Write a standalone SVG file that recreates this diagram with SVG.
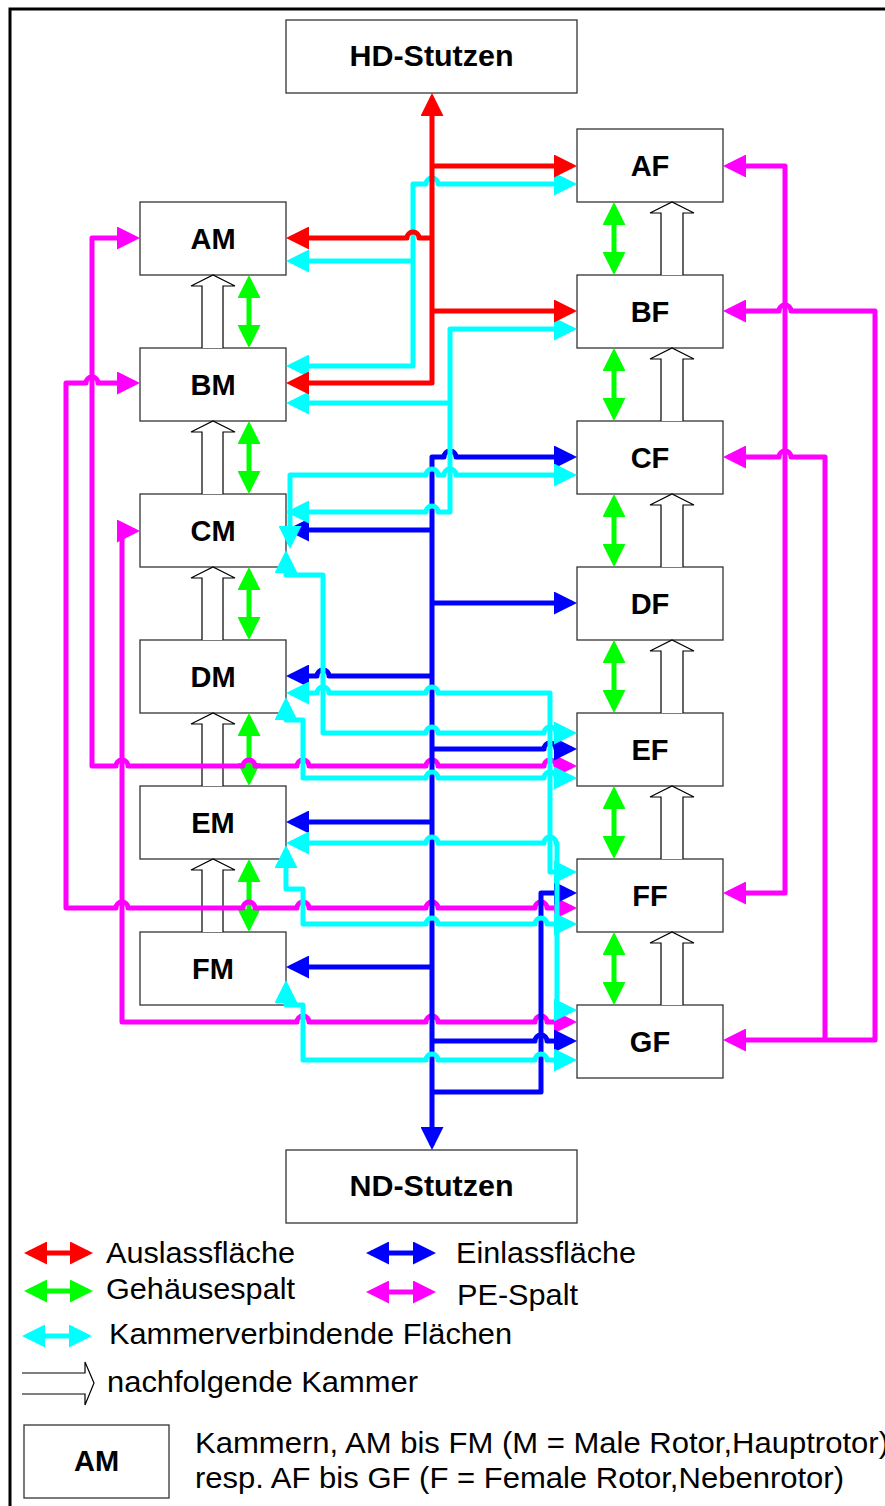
<svg xmlns="http://www.w3.org/2000/svg" width="885" height="1506" viewBox="0 0 885 1506">
<style>
.box{fill:#fff;stroke:#333;stroke-width:1.3}
.lbl{font-family:"Liberation Sans",Arial,sans-serif;font-weight:bold;font-size:29px;text-anchor:middle;fill:#000}
.leg{font-family:"Liberation Sans",Arial,sans-serif;font-size:30px;fill:#000}
.c{fill:none;stroke-width:5;stroke-linejoin:round}
.r{stroke:#ff0000}.g{stroke:#00ff00}.b{stroke:#0000ff}.cy{stroke:#00ffff}.m{stroke:#ff00ff}
.hol{fill:#fff;stroke:#000;stroke-width:1.2}
</style>
<defs>
<marker id="aR" viewBox="0 0 23 23" markerWidth="23" markerHeight="23" refX="18" refY="11.5" orient="auto-start-reverse" markerUnits="userSpaceOnUse"><path d="M0,0 L23,11.5 L0,23 z" fill="#ff0000"/></marker>
<marker id="aG" viewBox="0 0 23 23" markerWidth="23" markerHeight="23" refX="18" refY="11.5" orient="auto-start-reverse" markerUnits="userSpaceOnUse"><path d="M0,0 L23,11.5 L0,23 z" fill="#00ff00"/></marker>
<marker id="aB" viewBox="0 0 23 23" markerWidth="23" markerHeight="23" refX="18" refY="11.5" orient="auto-start-reverse" markerUnits="userSpaceOnUse"><path d="M0,0 L23,11.5 L0,23 z" fill="#0000ff"/></marker>
<marker id="aC" viewBox="0 0 23 23" markerWidth="23" markerHeight="23" refX="18" refY="11.5" orient="auto-start-reverse" markerUnits="userSpaceOnUse"><path d="M0,0 L23,11.5 L0,23 z" fill="#00ffff"/></marker>
<marker id="aM" viewBox="0 0 23 23" markerWidth="23" markerHeight="23" refX="18" refY="11.5" orient="auto-start-reverse" markerUnits="userSpaceOnUse"><path d="M0,0 L23,11.5 L0,23 z" fill="#ff00ff"/></marker>
</defs>
<rect width="885" height="1506" fill="#fff"/>
<path d="M10,1506 L10,9 L885,9" fill="none" stroke="#000" stroke-width="3"/>

<g id="HD"><rect class="box" x="286" y="20" width="291" height="73"/><text class="lbl" x="431.5" y="66" textLength="164" lengthAdjust="spacingAndGlyphs">HD-Stutzen</text></g>
<g id="ND"><rect class="box" x="286" y="1150" width="291" height="73"/><text class="lbl" x="431.5" y="1196" textLength="164" lengthAdjust="spacingAndGlyphs">ND-Stutzen</text></g>
<g id="AM"><rect class="box" x="140" y="202" width="146" height="73"/><text class="lbl" x="213" y="249">AM</text></g>
<g id="BM"><rect class="box" x="140" y="348" width="146" height="73"/><text class="lbl" x="213" y="395">BM</text></g>
<g id="CM"><rect class="box" x="140" y="494" width="146" height="73"/><text class="lbl" x="213" y="541">CM</text></g>
<g id="DM"><rect class="box" x="140" y="640" width="146" height="73"/><text class="lbl" x="213" y="687">DM</text></g>
<g id="EM"><rect class="box" x="140" y="786" width="146" height="73"/><text class="lbl" x="213" y="833">EM</text></g>
<g id="FM"><rect class="box" x="140" y="932" width="146" height="73"/><text class="lbl" x="213" y="979">FM</text></g>
<g id="AF"><rect class="box" x="577" y="129" width="146" height="73"/><text class="lbl" x="650" y="176">AF</text></g>
<g id="BF"><rect class="box" x="577" y="275" width="146" height="73"/><text class="lbl" x="650" y="322">BF</text></g>
<g id="CF"><rect class="box" x="577" y="421" width="146" height="73"/><text class="lbl" x="650" y="468">CF</text></g>
<g id="DF"><rect class="box" x="577" y="567" width="146" height="73"/><text class="lbl" x="650" y="614">DF</text></g>
<g id="EF"><rect class="box" x="577" y="713" width="146" height="73"/><text class="lbl" x="650" y="760">EF</text></g>
<g id="FF"><rect class="box" x="577" y="859" width="146" height="73"/><text class="lbl" x="650" y="906">FF</text></g>
<g id="GF"><rect class="box" x="577" y="1005" width="146" height="73"/><text class="lbl" x="650" y="1052">GF</text></g>

<g id="connectors">
<!-- hollow successor arrows -->
<path class="hol" d="M202,348 L202,286 L191,286 L213,275 L235,286 L223,286 L223,348"/>
<path class="hol" d="M202,494 L202,432 L191,432 L213,421 L235,432 L223,432 L223,494"/>
<path class="hol" d="M202,640 L202,578 L191,578 L213,567 L235,578 L223,578 L223,640"/>
<path class="hol" d="M202,786 L202,724 L191,724 L213,713 L235,724 L223,724 L223,786"/>
<path class="hol" d="M202,932 L202,870 L191,870 L213,859 L235,870 L223,870 L223,932"/>
<path class="hol" d="M661,275 L661,213 L650,213 L672,202 L694,213 L683,213 L683,275"/>
<path class="hol" d="M661,421 L661,359 L650,359 L672,348 L694,359 L683,359 L683,421"/>
<path class="hol" d="M661,567 L661,505 L650,505 L672,494 L694,505 L683,505 L683,567"/>
<path class="hol" d="M661,713 L661,651 L650,651 L672,640 L694,651 L683,651 L683,713"/>
<path class="hol" d="M661,859 L661,797 L650,797 L672,786 L694,797 L683,797 L683,859"/>
<path class="hol" d="M661,1005 L661,943 L650,943 L672,932 L694,943 L683,943 L683,1005"/>

<!-- green housing gap -->
<g class="c g" marker-start="url(#aG)" marker-end="url(#aG)">
<path d="M249,280 L249,343"/><path d="M249,426 L249,489"/><path d="M249,572 L249,635"/><path d="M249,718 L249,781"/><path d="M249,864 L249,927"/>
<path d="M614,207 L614,270"/><path d="M614,353 L614,416"/><path d="M614,499 L614,562"/><path d="M614,645 L614,708"/><path d="M614,791 L614,854"/><path d="M614,937 L614,1000"/>
</g>

<!-- magenta PE gap -->
<g class="c m">
<path marker-start="url(#aM)" marker-end="url(#aM)" d="M135,238 L92,238 L92,766 L116,766 A6,6 0 0 1 128,766 L243,766 A6,6 0 0 1 255,766 L297,766 A6,6 0 0 1 309,766 L426,766 A6,6 0 0 1 438,766 L544,766 A6,6 0 0 1 556,766 L572,766"/>
<path marker-start="url(#aM)" marker-end="url(#aM)" d="M135,383 L98,383 A6,6 0 0 0 86,383 L66,383 L66,908 L116,908 A6,6 0 0 1 128,908 L243,908 A6,6 0 0 1 255,908 L297,908 A6,6 0 0 1 309,908 L426,908 A6,6 0 0 1 438,908 L535,908 A6,6 0 0 1 547,908 L572,908"/>
<path marker-start="url(#aM)" marker-end="url(#aM)" d="M135,531 L122,531 L122,1022 L297,1022 A6,6 0 0 1 309,1022 L426,1022 A6,6 0 0 1 438,1022 L535,1022 A6,6 0 0 1 547,1022 L572,1022"/>
<path marker-start="url(#aM)" marker-end="url(#aM)" d="M728,166 L785,166 L785,893 L728,893"/>
<path marker-start="url(#aM)" marker-end="url(#aM)" d="M728,311 L779,311 A6,6 0 0 1 791,311 L875,311 L875,1040 L728,1040"/>
<path marker-start="url(#aM)" d="M728,457 L779,457 A6,6 0 0 1 791,457 L825,457 L825,1040"/>
</g>

<!-- blue inlet -->
<g class="c b">
<path marker-start="url(#aB)" marker-end="url(#aB)" d="M572,457 L456,457 A6,6 0 0 0 444,457 L432,457 L432,1145"/>
<path marker-end="url(#aB)" d="M432,530 L291,530"/>
<path marker-end="url(#aB)" d="M432,603 L572,603"/>
<path marker-end="url(#aB)" d="M432,676 L329,676 A6,6 0 0 0 317,676 L291,676"/>
<path marker-end="url(#aB)" d="M432,749 L544,749 A6,6 0 0 1 556,749 L572,749"/>
<path marker-end="url(#aB)" d="M432,822 L291,822"/>
<path marker-end="url(#aB)" d="M432,967 L291,967"/>
<path marker-end="url(#aB)" d="M432,1041 L535,1041 A6,6 0 0 1 547,1041 L572,1041"/>
<path marker-end="url(#aB)" d="M432,1092 L541,1092 L541,893 L572,893"/>
</g>

<!-- cyan chamber-connecting -->
<g class="c cy">
<path marker-start="url(#aC)" marker-end="url(#aC)" d="M291,366 L413,366 L413,184 L426,184 A6,6 0 0 1 438,184 L572,184"/>
<path marker-start="url(#aC)" d="M291,261 L413,261"/>
<path marker-start="url(#aC)" marker-end="url(#aC)" d="M572,329 L450,329 L450,512 L438,512 A6,6 0 0 0 426,512 L291,512"/>
<path marker-start="url(#aC)" d="M291,403 L450,403"/>
<path marker-start="url(#aC)" marker-end="url(#aC)" d="M290,544 L290,475 L426,475 A6,6 0 0 1 438,475 L444,475 A6,6 0 0 1 456,475 L572,475"/>
<path marker-start="url(#aC)" marker-end="url(#aC)" d="M286,555 L286,575 L323,575 L323,733 L426,733 A6,6 0 0 1 438,733 L544,733 A6,6 0 0 1 556,733 L572,733"/>
<path marker-start="url(#aC)" marker-end="url(#aC)" d="M291,693 L317,693 A6,6 0 0 1 329,693 L426,693 A6,6 0 0 1 438,693 L550,693 L550,872 L572,872"/>
<path marker-start="url(#aC)" marker-end="url(#aC)" d="M286,702 L286,720 L303,720 L303,778 L426,778 A6,6 0 0 1 438,778 L544,778 A6,6 0 0 1 556,778 L572,778"/>
<path marker-start="url(#aC)" marker-end="url(#aC)" d="M291,843 L426,843 A6,6 0 0 1 438,843 L544,843 A6,6 0 0 1 556,843 L557,843 L557,1010 L572,1010"/>
<path marker-start="url(#aC)" marker-end="url(#aC)" d="M286,850 L286,889 L303,889 L303,924 L426,924 A6,6 0 0 1 438,924 L535,924 A6,6 0 0 1 547,924 L572,924"/>
<path marker-start="url(#aC)" marker-end="url(#aC)" d="M286,985 L286,1005 L303,1005 L303,1060 L426,1060 A6,6 0 0 1 438,1060 L535,1060 A6,6 0 0 1 547,1060 L572,1060"/>
</g>

<!-- red outlet -->
<g class="c r">
<path marker-start="url(#aR)" marker-end="url(#aR)" d="M291,383 L432,383 L432,98"/>
<path marker-end="url(#aR)" d="M432,166 L572,166"/>
<path marker-end="url(#aR)" d="M432,311 L572,311"/>
<path marker-end="url(#aR)" d="M432,238 L419,238 A6,6 0 0 0 407,238 L291,238"/>
</g>
</g>

<g id="legend">
<path class="c r" marker-start="url(#aR)" marker-end="url(#aR)" d="M29,1253 L88,1253"/>
<text class="leg" x="106" y="1263" textLength="189" lengthAdjust="spacingAndGlyphs">Auslassfläche</text>
<path class="c b" marker-start="url(#aB)" marker-end="url(#aB)" d="M371,1253 L431,1253"/>
<text class="leg" x="456" y="1263" textLength="180" lengthAdjust="spacingAndGlyphs">Einlassfläche</text>
<path class="c g" marker-start="url(#aG)" marker-end="url(#aG)" d="M29,1291 L88,1291"/>
<text class="leg" x="106" y="1299" textLength="189" lengthAdjust="spacingAndGlyphs">Gehäusespalt</text>
<path class="c m" marker-start="url(#aM)" marker-end="url(#aM)" d="M371,1292 L431,1292"/>
<text class="leg" x="457" y="1305" textLength="121" lengthAdjust="spacingAndGlyphs">PE-Spalt</text>
<path class="c cy" marker-start="url(#aC)" marker-end="url(#aC)" d="M27,1336 L87,1336"/>
<text class="leg" x="109" y="1344" textLength="403" lengthAdjust="spacingAndGlyphs">Kammerverbindende Flächen</text>
<path class="hol" fill="none" d="M22,1373 L85,1373 L85,1362 L94,1383 L85,1405 L85,1394 L22,1394"/>
<text class="leg" x="107" y="1392" textLength="311" lengthAdjust="spacingAndGlyphs">nachfolgende Kammer</text>
<rect class="box" x="24" y="1425" width="145" height="73"/>
<text class="lbl" x="96.5" y="1471">AM</text>
<text class="leg" x="195" y="1453" textLength="694" lengthAdjust="spacingAndGlyphs">Kammern, AM bis FM (M = Male Rotor,Hauptrotor)</text>
<text class="leg" x="195" y="1488" textLength="649" lengthAdjust="spacingAndGlyphs">resp. AF bis GF (F = Female Rotor,Nebenrotor)</text>
</g>
</svg>
